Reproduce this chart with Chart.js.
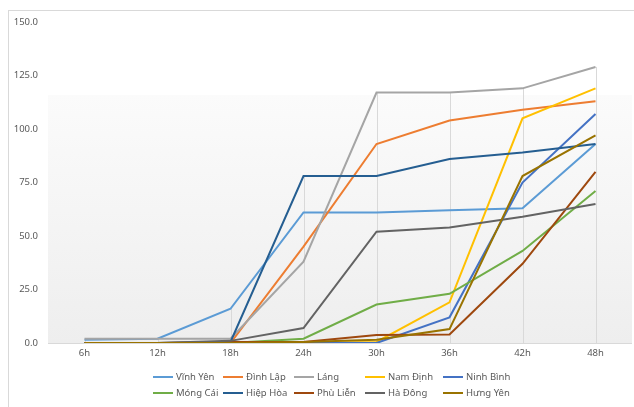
<!DOCTYPE html>
<html lang="vi">
<head>
<meta charset="UTF-8" />
<title>Lượng mưa tích lũy</title>
<script src="https://cdn.jsdelivr.net/npm/chart.js"></script>
<style>
  body { margin: 0; background: #fff; font-family: 'Noto Sans', sans-serif; }
  .khung { position: relative; width: 634px; height: 407px; overflow: hidden; }
  .vien { position: absolute; left: 8px; top: 10px; width: 700px; height: 500px;
          border-left: 1px solid #d9d9d9; border-top: 1px solid #d9d9d9; }
  #myChart { position: absolute; left: 0; top: 0; }
  .chuthich { position: absolute; font-size: 9.5px; color: #595959; }
  .muc { position: absolute; white-space: nowrap; height: 14px; line-height: 14px; }
  .muc i { display: inline-block; width: 20px; height: 2px; vertical-align: middle; margin-right: 3px; }
</style>
</head>
<body>
<div class="khung">
  <div class="vien"></div>
  <canvas id="myChart" width="634" height="407"></canvas>
  <div class="chuthich" id="chuthich"></div>
</div>

<script>
// thoi gian
var gio = ['6h', '12h', '18h', '24h', '30h', '36h', '42h', '48h'];

// cac tram
var vinhYen  = [1.5, 2, 16, 61, 61, 62, 63, 93];
var dinhLap  = [0, 0, 0, 45, 93, 104, 109, 113];
var lang     = [2, 2, 2, 38, 117, 117, 119, 129];
var namDinh  = [0, 0, 0, 0, 0.5, 19, 105, 119];
var ninhBinh = [0, 0, 0, 0, 0, 12, 75, 107];
var mongCai  = [0, 0, 0, 2, 18, 23, 43, 71];
var hiepHoa  = [0, 0, 0.5, 78, 78, 86, 89, 93];
var phuLien  = [0, 0, 0.5, 0.5, 3.7, 4, 37, 80];
var haDong   = [0, 0, 1, 7, 52, 54, 59, 65];
var hungYen  = [0, 0, 0, 0.5, 1.5, 6.5, 78, 97];

var tenTram = ['Vĩnh Yên', 'Đình Lập', 'Láng', 'Nam Định', 'Ninh Bình',
               'Móng Cái', 'Hiệp Hòa', 'Phù Liễn', 'Hà Đông', 'Hưng Yên'];
var mau = ['#5B9BD5', '#ED7D31', '#A5A5A5', '#FFC000', '#4472C4',
           '#70AD47', '#255E91', '#9E480E', '#636363', '#997300'];
var duLieu = [vinhYen, dinhLap, lang, namDinh, ninhBinh, mongCai, hiepHoa, phuLien, haDong, hungYen];

var datasets = [];
for (let i = 0; i < duLieu.length; i++) {
  datasets.push({
    label: tenTram[i],
    data: duLieu[i],
    borderColor: mau[i],
    backgroundColor: mau[i],
    borderWidth: 2,
    pointRadius: 0,
    tension: 0,
    order: duLieu.length - i // series sau ve de len tren
  });
}

// nen xam nhat + duong tha (drop lines) nhu Excel
const nenVaDuongTha = {
  id: 'nenVaDuongTha',
  beforeDatasetsDraw(chart) {
    const ctx = chart.ctx;
    const a = chart.chartArea;
    const x = chart.scales.x, y = chart.scales.y;
    ctx.save();
    const top = 95;
    const g = ctx.createLinearGradient(0, top, 0, a.bottom);
    g.addColorStop(0, '#fbfbfb');
    g.addColorStop(1, '#eeeeee');
    ctx.fillStyle = g;
    ctx.fillRect(a.left, top, a.right - a.left, a.bottom - top);

    ctx.strokeStyle = '#d9d9d9';
    ctx.lineWidth = 1;
    for (let j = 0; j < gio.length; j++) {
      let maxV = 0;
      chart.data.datasets.forEach(function (d) { if (d.data[j] > maxV) maxV = d.data[j]; });
      const px = Math.round(x.getPixelForValue(j)) + 0.5;
      ctx.beginPath();
      ctx.moveTo(px, y.getPixelForValue(maxV));
      ctx.lineTo(px, a.bottom);
      ctx.stroke();
    }
    ctx.beginPath();
    ctx.moveTo(a.left, Math.round(a.bottom) + 0.5);
    ctx.lineTo(a.right, Math.round(a.bottom) + 0.5);
    ctx.stroke();
    ctx.restore();
  }
};

const config = {
  type: 'line',
  data: { labels: gio, datasets: datasets },
  options: {
    responsive: false,
    animation: false,
    layout: { padding: { top: 22, right: 2, bottom: 44, left: 0 } },
    plugins: {
      legend: { display: false },
      tooltip: { enabled: false }
    },
    scales: {
      x: {
        offset: true,
        grid: { display: false, drawTicks: false },
        border: { display: false },
        ticks: { color: '#595959', font: { family: 'Noto Sans', size: 9.5 }, padding: 5, maxRotation: 0 },
        afterFit: function (s) { s.height = 20; }
      },
      y: {
        min: 0,
        max: 150,
        grid: { display: false, drawTicks: false },
        border: { display: false },
        ticks: {
          stepSize: 25,
          color: '#595959',
          font: { family: 'Noto Sans', size: 9.5 },
          padding: 10,
          callback: function (v) { return v.toFixed(1); }
        },
        afterFit: function (s) { s.width = 48; }
      }
    }
  },
  plugins: [nenVaDuongTha]
};

const myChart = new Chart(document.getElementById('myChart'), config);

// chu thich 2 hang, cot thang nhau
var cotX = [153, 223, 294, 365, 443];
var hangY = [370, 386];
var ct = document.getElementById('chuthich');
myChart.data.datasets.forEach(function (d, i) {
  var m = document.createElement('div');
  m.className = 'muc';
  m.style.left = cotX[i % 5] + 'px';
  m.style.top = hangY[Math.floor(i / 5)] + 'px';
  m.innerHTML = '<i style="background:' + d.borderColor + '"></i>' + d.label;
  ct.appendChild(m);
});
</script>
</body>
</html>
